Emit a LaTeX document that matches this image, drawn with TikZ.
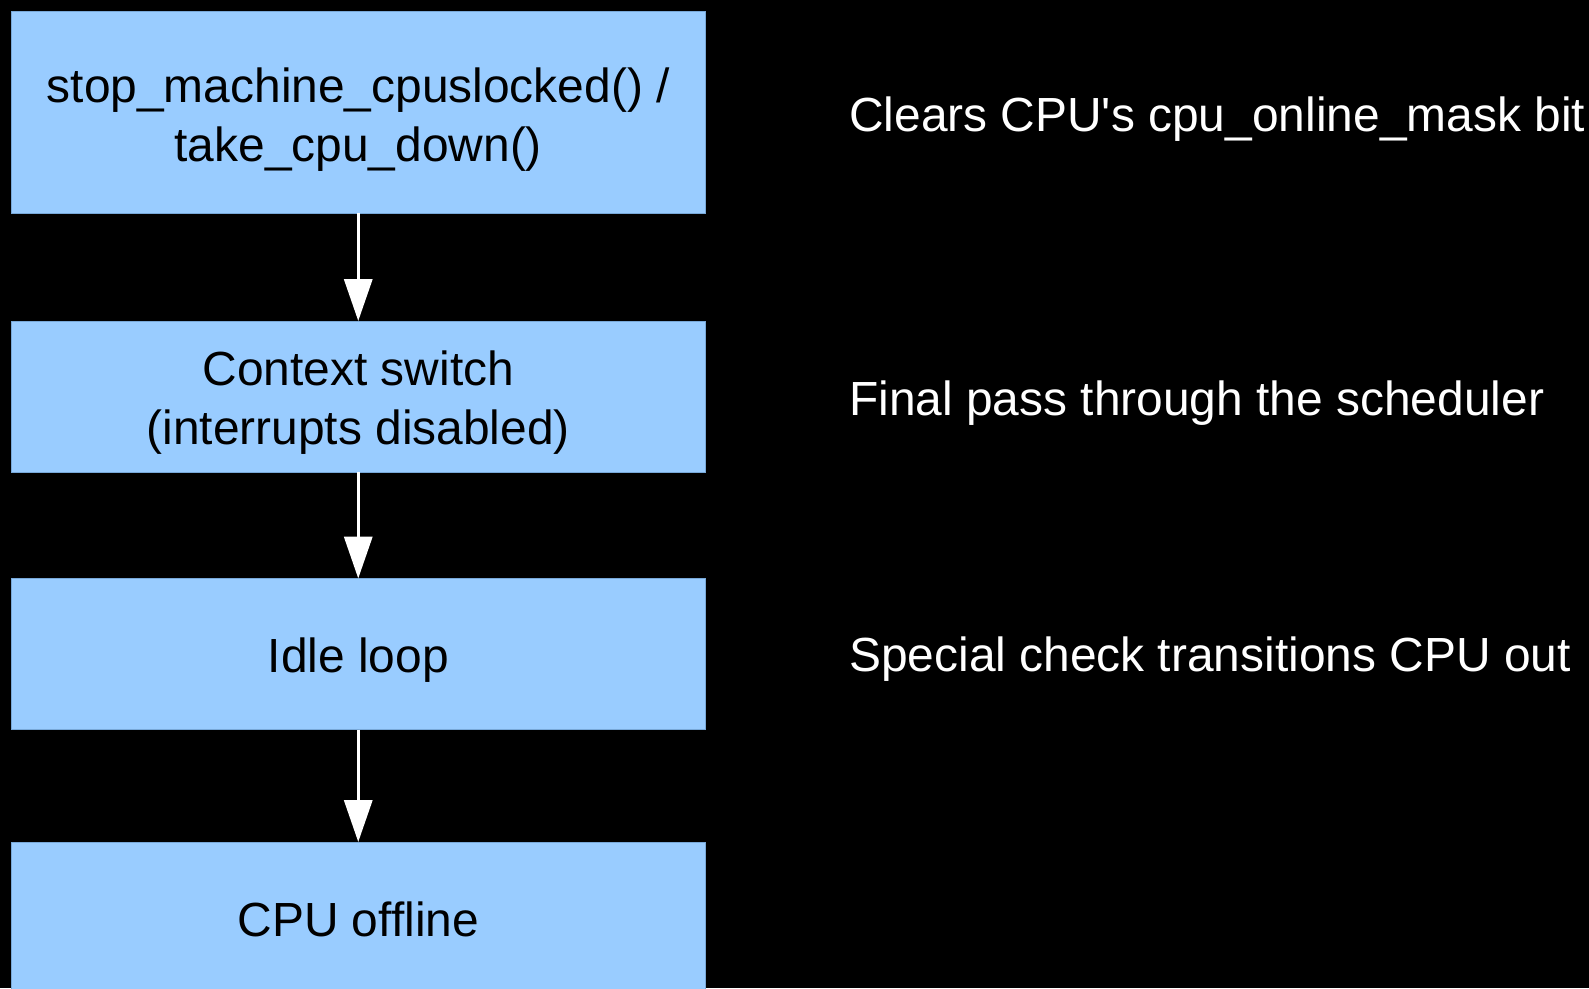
\documentclass[tikz,border=0pt]{standalone}
\usepackage{fontspec}
\setmainfont{Liberation Sans}
\usetikzlibrary{arrows.meta}
\definecolor{boxfill}{HTML}{99CCFF}
\definecolor{boxline}{HTML}{78A8D8}
\begin{document}
\begin{tikzpicture}[x=1pt,y=-1pt,
  stage/.style={rectangle, fill=boxfill, draw=boxline, line width=1pt,
    minimum width=694.5pt, inner sep=0pt, outer sep=0pt},
  stagetext/.style={font=\fontsize{47.9}{59}\selectfont, align=center,
    inner sep=0pt, anchor=base},
  note/.style={font=\fontsize{47.9}{59}\selectfont, text=white,
    inner sep=0pt, anchor=base west},
  flow/.style={draw=white, line width=3.5pt,
    -{Triangle[length=42pt,width=28pt]}}]

% page background and frame
\fill[black] (0,0) rectangle (1589,988);
\useasboundingbox (0,0) rectangle (1589,988);
\clip (0,0) rectangle (1589,988);

% stages of taking a CPU down
\node[stage, minimum height=202pt] (b1) at (358.25,112) {};
\node[stage, minimum height=151pt] (b2) at (358.25,396.5) {};
\node[stage, minimum height=151pt] (b3) at (358.25,654) {};
\node[stage, minimum height=152pt] (b4) at (358.25,918) {};

\node[stagetext, anchor=north] (t1) at (358.25,67.3)
  {stop\_machine\_cpuslocked() /\\take\_cpu\_down()};
\node[stagetext, anchor=north] (t2) at (358.25,351)
  {Context switch\\(interrupts disabled)};
\node[stagetext] (t3) at (358.25,672.7) {Idle loop};
\node[stagetext] (t4) at (358.25,936.7) {CPU offline};

% transitions
\draw[flow] (b1) -- (b2);
\draw[flow] (b2) -- (b3);
\draw[flow] (b3) -- (b4);

% side notes
\node[note] (n1) at (849,131) {Clears CPU\textquotesingle s cpu\_online\_mask bit};
\node[note] (n2) at (849,415) {Final pass through the scheduler};
\node[note] (n3) at (849,671.7) {Special check transitions CPU out};
\end{tikzpicture}
\end{document}
